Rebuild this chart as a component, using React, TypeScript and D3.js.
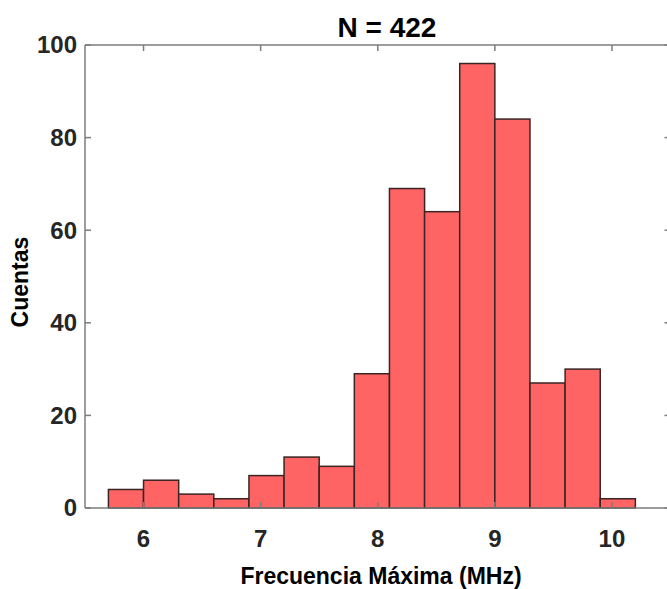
import React from "react";
import * as d3 from "d3";

const binEdges = [5.7, 6.0, 6.3, 6.6, 6.9, 7.2, 7.5, 7.8, 8.1, 8.4, 8.7, 9.0, 9.3, 9.6, 9.9, 10.2];
const counts = [4, 6, 3, 2, 7, 11, 9, 29, 69, 64, 96, 84, 27, 30, 2];
const xTicks = [6, 7, 8, 9, 10];
const yTicks = [0, 20, 40, 60, 80, 100];
const titleText = "N = 422";
const xLabelText = "Frecuencia Máxima (MHz)";
const yLabelText = "Cuentas";

const W = 667;
const H = 589;
const left = 85;
const top = 45;
const bottom = 508;
const font = "'Liberation Sans', Arial, Helvetica, sans-serif";

export default function App() {
  const x = d3.scaleLinear().domain([5.5, 10.5]).range([left, left + 585.5]);
  const y = d3.scaleLinear().domain([0, 100]).range([bottom, top]);
  const right = x(10.5);
  const axisColor = "#7c7c7c";
  const tickLen = 6;

  return (
    <svg width={W} height={H} style={{ position: "absolute", left: 0, top: 0, background: "#fff" }}>
      <rect x={0} y={0} width={W} height={H} fill="#fff" />
      {counts.map((c, i) => (
        <rect
          key={i}
          x={x(binEdges[i])}
          y={y(c)}
          width={x(binEdges[i + 1]) - x(binEdges[i])}
          height={y(0) - y(c)}
          fill="#ff6464"
          stroke="#3b2424"
          strokeWidth={1.5}
        />
      ))}
      {/* axes box */}
      <line x1={left} x2={right} y1={top} y2={top} stroke={axisColor} strokeWidth={1.5} />
      <line x1={left} x2={right} y1={bottom} y2={bottom} stroke={axisColor} strokeWidth={1.5} />
      <line x1={left} x2={left} y1={top} y2={bottom} stroke={axisColor} strokeWidth={1.5} />
      <line x1={right} x2={right} y1={top} y2={bottom} stroke={axisColor} strokeWidth={1.5} />
      {xTicks.map((t) => (
        <g key={"x" + t}>
          <line x1={x(t)} x2={x(t)} y1={bottom} y2={bottom - tickLen} stroke={axisColor} strokeWidth={1.5} />
          <line x1={x(t)} x2={x(t)} y1={top} y2={top + tickLen} stroke={axisColor} strokeWidth={1.5} />
          <text
            x={x(t)}
            y={547}
            textAnchor="middle"
            fontFamily={font}
            fontWeight="bold"
            fontSize={24}
            fill="#262626"
          >
            {t}
          </text>
        </g>
      ))}
      {yTicks.map((t) => (
        <g key={"y" + t}>
          <line x1={left} x2={left + tickLen} y1={y(t)} y2={y(t)} stroke={axisColor} strokeWidth={1.5} />
          <line x1={right} x2={right - tickLen} y1={y(t)} y2={y(t)} stroke={axisColor} strokeWidth={1.5} />
          <text
            x={77}
            y={y(t)}
            dy="0.35em"
            textAnchor="end"
            fontFamily={font}
            fontWeight="bold"
            fontSize={24}
            fill="#262626"
          >
            {t}
          </text>
        </g>
      ))}
      <text x={387} y={37} textAnchor="middle" fontFamily={font} fontWeight="bold" fontSize={28} fill="#000">
        {titleText}
      </text>
      <text x={381} y={584} textAnchor="middle" fontFamily={font} fontWeight="bold" fontSize={23} fill="#000">
        {xLabelText}
      </text>
      <text
        transform={`translate(28, 282) rotate(-90)`}
        textAnchor="middle"
        fontFamily={font}
        fontWeight="bold"
        fontSize={23}
        fill="#000"
      >
        {yLabelText}
      </text>
    </svg>
  );
}
